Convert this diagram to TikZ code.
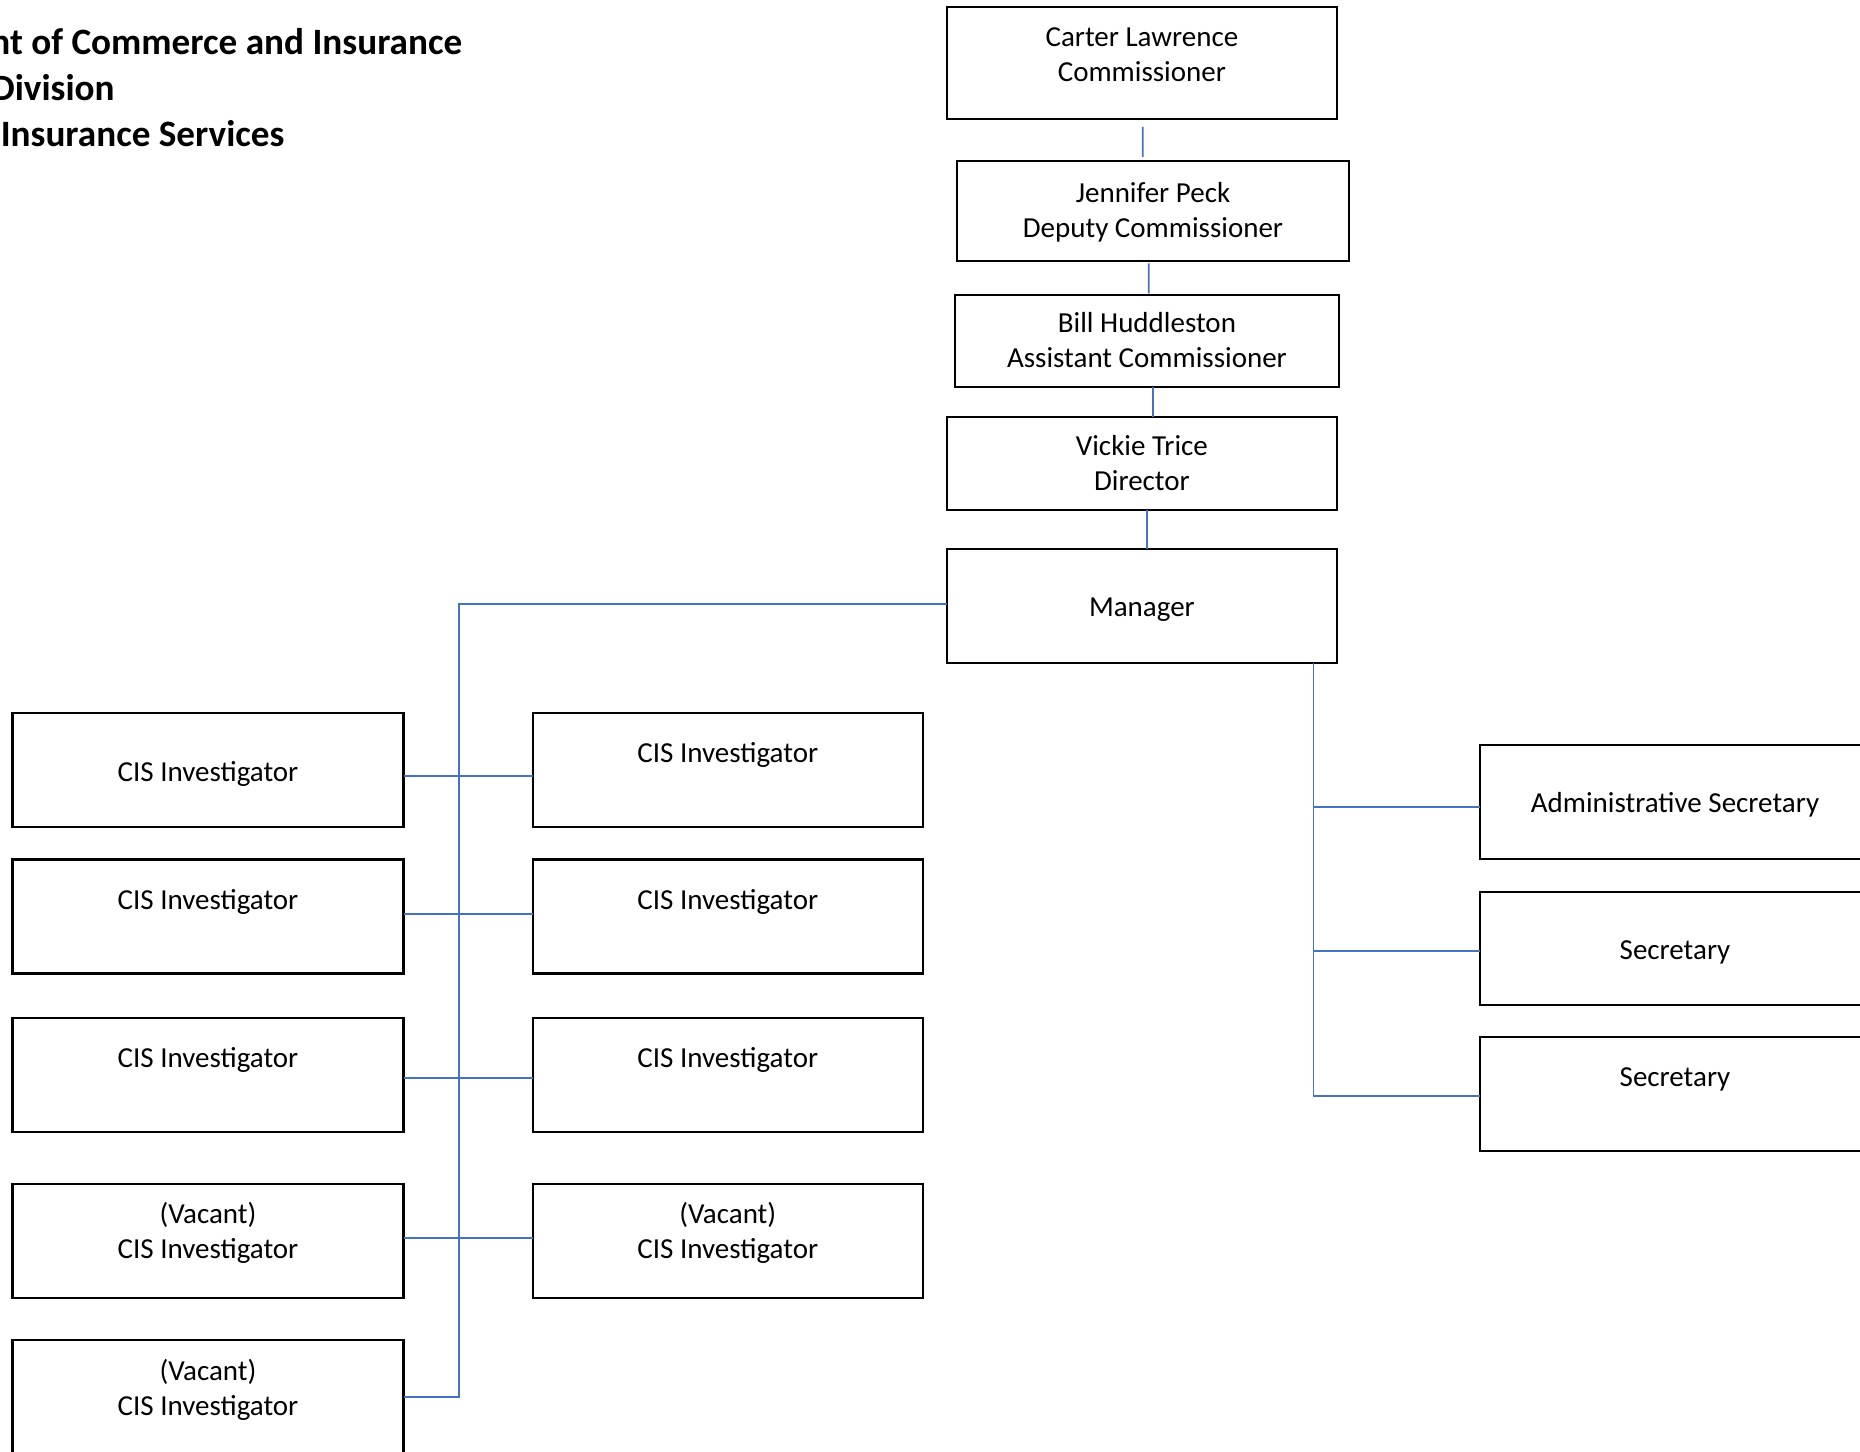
\documentclass[tikz,border=0pt]{standalone}
\usepackage{fontspec}
\setmainfont{Carlito}
\definecolor{linkblue}{RGB}{68,114,196}
% two centred lines, baseline on the first one
\newcommand{\orglines}[2]{\begin{tabular}[t]{@{}c@{}}#1\\#2\end{tabular}}

\begin{document}
\begin{tikzpicture}[x=0.5pt,y=-0.5pt,
    orgbox/.style={draw=black, line width=1.1pt, inner sep=0pt, outer sep=0pt},
    orgtext/.style={inner sep=0pt, anchor=base, font=\fontsize{14.5}{17.5}\selectfont},
    headtext/.style={inner sep=0pt, anchor=base east, font=\fontsize{18.6}{23}\selectfont\bfseries},
    link/.style={draw=linkblue, line width=0.9pt}]
  \useasboundingbox (0,0) rectangle (1860,1452);
  \clip (0,0) rectangle (1860,1452);

  % ---------- Heading (cut off at the left edge) ----------
  \node[headtext] (head1) at (462.7,54) {nt of Commerce and Insurance};
  \node[headtext] (head2) at (115,100) {Division};
  \node[headtext] (head3) at (285,146) {Insurance Services};

  % ---------- Boxes: name/centre x/centre y/width/height/baseline/line 1/line 2 ----------
  \foreach \nm/\cx/\cy/\w/\h/\bl/\la/\lb in {
      car/1141.9/62.9/390.4/112.3/46/Carter Lawrence/Commissioner,
      jen/1153/210.9/392/99.7/202.3/Jennifer Peck/Deputy Commissioner,
      bil/1147/341/384/92/332.7/Bill Huddleston/Assistant Commissioner,
      vic/1141.9/463.5/390.4/93.6/455.7/Vickie Trice/Director,
      man/1141.9/606.3/390.4/114/616/Manager/{},
      ll1/208/770.3/391/114/781/CIS Investigator/{},
      ll2/208/916.5/391/114/909/CIS Investigator/{},
      ll3/208/1074.9/391/114/1067.4/CIS Investigator/{},
      ll4/208/1240.8/391/114/1223.3/(Vacant)/CIS Investigator,
      ll5/208/1397/391/114/1380/(Vacant)/CIS Investigator,
      rr1/727.8/770.3/390.2/114/762.7/CIS Investigator/{},
      rr2/727.8/916.5/390.2/114/909/CIS Investigator/{},
      rr3/727.8/1074.9/390.2/114/1067.4/CIS Investigator/{},
      rr4/727.8/1241/390.2/114/1223.3/(Vacant)/CIS Investigator,
      asec/1675/802.2/390/114.3/812.7/Administrative Secretary/{},
      sec1/1675/948.5/390/113.6/959.3/Secretary/{},
      sec2/1675/1094.2/390/113.7/1086.7/Secretary/{}
  }{
    \node[orgbox, minimum width=\w*0.5pt, minimum height=\h*0.5pt] (\nm) at (\cx,\cy) {};
    \node[orgtext] (\nm-t) at (\cx,\bl) {\orglines{\la}{\lb}};
  }

  % ---------- Chain of command ----------
  \coordinate (cj-top) at ([shift={(0.8,7.7)}]car.south);
  \coordinate (cj-bot) at ([shift={(-10.3,-4.3)}]jen.north);
  \draw[link] (cj-top) -- (cj-bot);
  \draw[link] ([shift={(-4.3,2.6)}]jen.south) -- ([shift={(1.7,-1.7)}]bil.north);
  \draw[link] ([shift={(5.7,0)}]bil.south) -- ([shift={(10.8,0)}]vic.north);
  \draw[link] ([shift={(5.1,0)}]vic.south) -- ([shift={(5.1,0)}]man.north);

  % ---------- Investigators ----------
  \coordinate (ltrunk) at (459,604.3);
  \draw[link] (man.west |- ltrunk) -- (ltrunk) |- (ll5.east);
  \foreach \i/\dy in {1/5.7, 2/-2.2, 3/3.4, 4/-2.5}
    \draw[link] ([shift={(0,\dy)}]ll\i.east) coordinate (row\i) -- (row\i -| rr\i.west);

  % ---------- Secretaries ----------
  \coordinate (rtrunk) at ([shift={(-23.7,0)}]man.south east);
  \draw[link] (rtrunk) |- ([shift={(0,2.1)}]sec2.west);
  \foreach \nm/\dy in {asec/4.5, sec1/2.2}
    \draw[link] ([shift={(0,\dy)}]\nm.west) coordinate (hook) -- (hook -| rtrunk);
\end{tikzpicture}
\end{document}
